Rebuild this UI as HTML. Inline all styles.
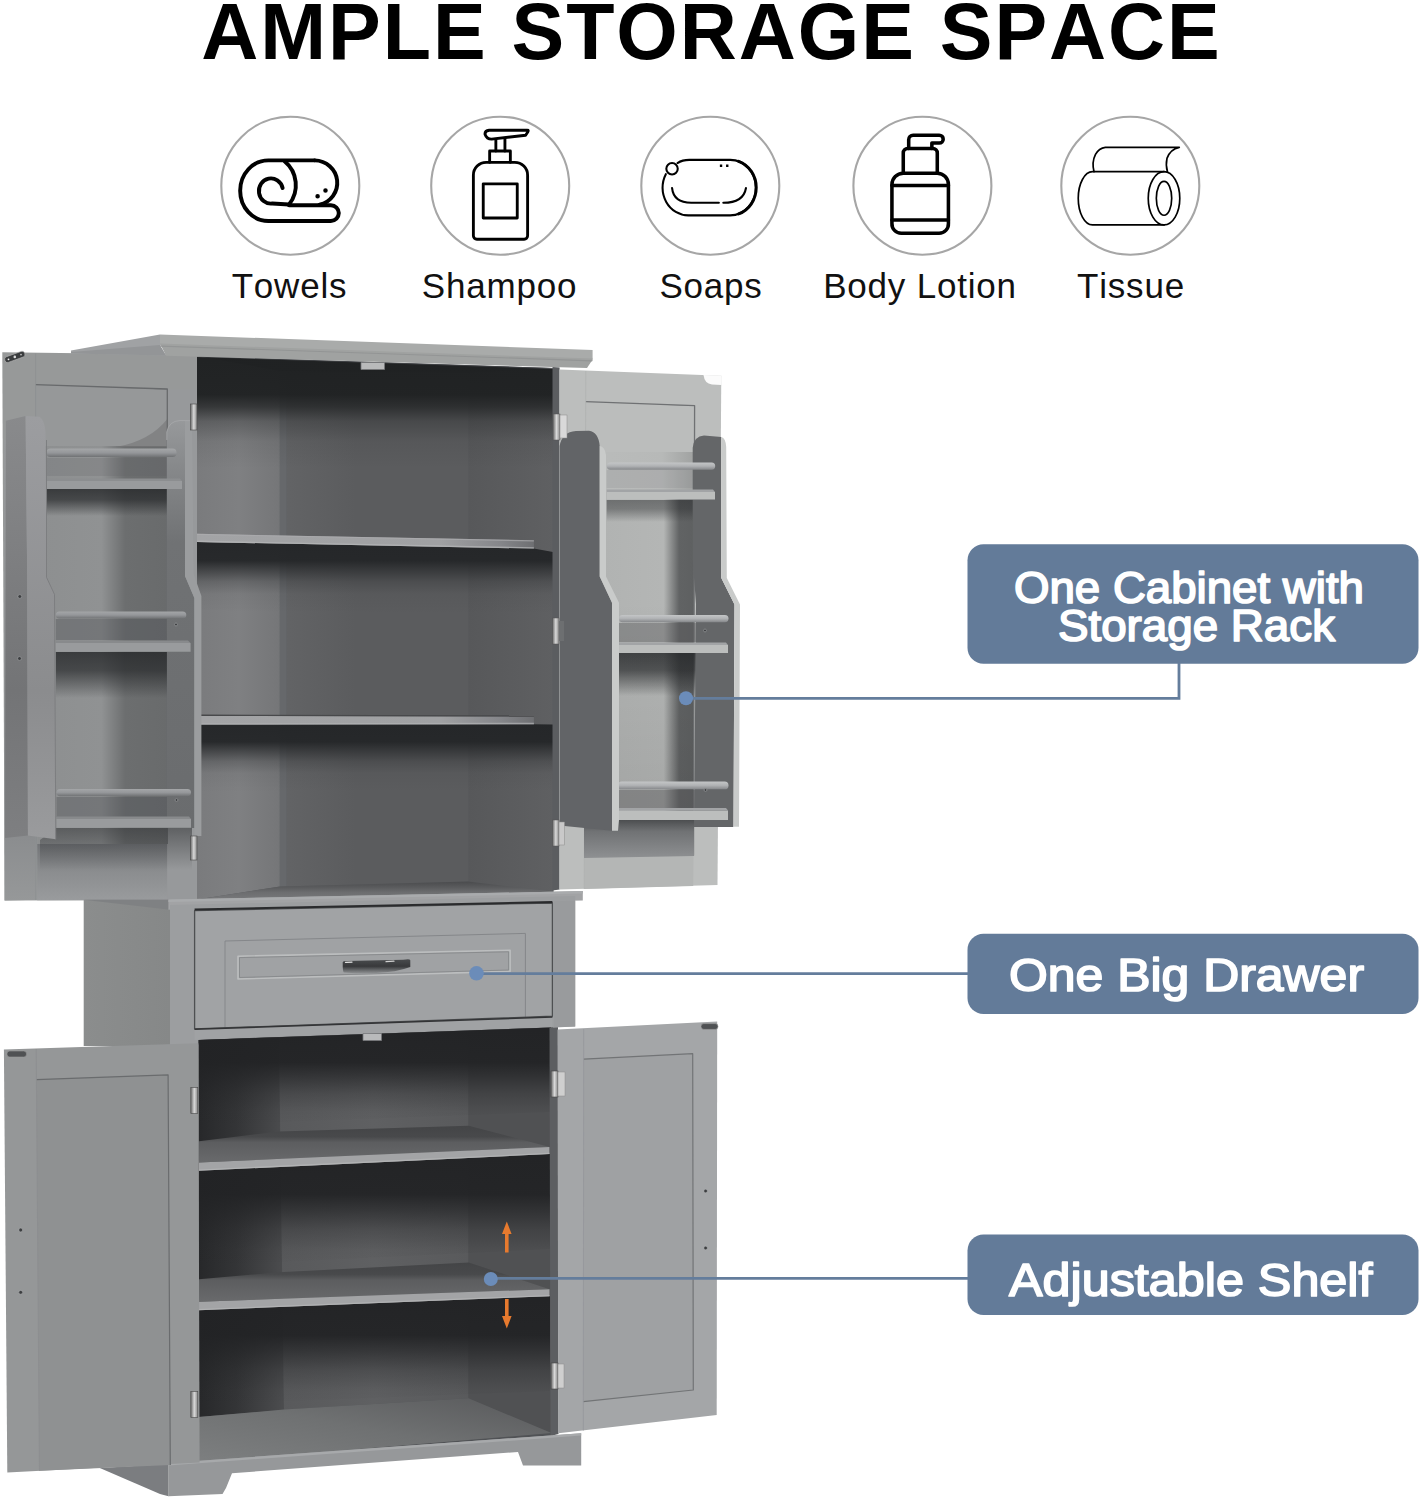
<!DOCTYPE html>
<html><head><meta charset="utf-8">
<style>
html,body{margin:0;padding:0;background:#fff;}
body{width:1420px;height:1500px;overflow:hidden;font-family:"Liberation Sans",sans-serif;}
svg{display:block;position:absolute;left:0;top:0;}
text{font-family:"Liberation Sans",sans-serif;font-kerning:none;}
</style></head><body>
<svg width="1420" height="1500" viewBox="0 0 1420 1500">
<defs>
<linearGradient id="gBack" x1="0" y1="0" x2="1" y2="0"><stop offset="0" stop-color="#636466"/><stop offset="0.4" stop-color="#5b5c5e"/><stop offset="1" stop-color="#5b5c5e"/></linearGradient>
<linearGradient id="gLWall" x1="0" y1="0" x2="1" y2="0"><stop offset="0" stop-color="#7a7b7d"/><stop offset="0.5" stop-color="#7f8082"/><stop offset="1" stop-color="#757678"/></linearGradient>
<linearGradient id="gRWall" x1="0" y1="0" x2="1" y2="0"><stop offset="0" stop-color="#57585a"/><stop offset="1" stop-color="#5f6062"/></linearGradient>
<linearGradient id="gShadowDown" x1="0" y1="0" x2="0" y2="1"><stop offset="0" stop-color="#2c2e30" stop-opacity="0.75"/><stop offset="1" stop-color="#2c2e30" stop-opacity="0"/></linearGradient>
<linearGradient id="gLPanel" x1="0" y1="0" x2="1" y2="0"><stop offset="0" stop-color="#8d8f90"/><stop offset="0.5" stop-color="#909293"/><stop offset="0.68" stop-color="#6c6e6f"/><stop offset="1" stop-color="#696b6c"/></linearGradient>
<linearGradient id="gRPanel" x1="0" y1="0" x2="1" y2="0"><stop offset="0" stop-color="#b0b2b1"/><stop offset="0.72" stop-color="#b4b6b5"/><stop offset="0.86" stop-color="#616364"/><stop offset="1" stop-color="#5e6061"/></linearGradient>
<linearGradient id="gRod" x1="0" y1="0" x2="0" y2="1"><stop offset="0" stop-color="#a4a6a8"/><stop offset="0.5" stop-color="#95979a"/><stop offset="1" stop-color="#707274"/></linearGradient>
<linearGradient id="gRodR" x1="0" y1="0" x2="0" y2="1"><stop offset="0" stop-color="#c4c6c7"/><stop offset="0.5" stop-color="#b0b2b4"/><stop offset="1" stop-color="#85878a"/></linearGradient>
<linearGradient id="gShelfTop" x1="0" y1="0" x2="1" y2="0"><stop offset="0" stop-color="#a3a4a6"/><stop offset="0.72" stop-color="#a0a1a3"/><stop offset="0.9" stop-color="#85868a"/><stop offset="1" stop-color="#6e6f72"/></linearGradient>
<linearGradient id="gLowShelf" x1="0" y1="0" x2="0" y2="1"><stop offset="0" stop-color="#6f7174"/><stop offset="1" stop-color="#858789"/></linearGradient>
<linearGradient id="gSide" x1="0" y1="0" x2="1" y2="0"><stop offset="0" stop-color="#8b8d8d"/><stop offset="1" stop-color="#868888"/></linearGradient>
<linearGradient id="gHandle" x1="0" y1="0" x2="0" y2="1"><stop offset="0" stop-color="#4a4c4e"/><stop offset="0.5" stop-color="#38393b"/><stop offset="0.7" stop-color="#5a5c5e"/><stop offset="1" stop-color="#8e9092"/></linearGradient>
<linearGradient id="gMetal" x1="0" y1="0" x2="1" y2="0"><stop offset="0" stop-color="#6a6a6a"/><stop offset="0.5" stop-color="#d8d8d8"/><stop offset="1" stop-color="#8a8a8a"/></linearGradient>
<linearGradient id="gLBotRail" x1="0" y1="0" x2="0" y2="1"><stop offset="0" stop-color="#737578"/><stop offset="0.5" stop-color="#8b8d8f"/><stop offset="1" stop-color="#999b9d"/></linearGradient>
<linearGradient id="gLStile" x1="0" y1="0" x2="0" y2="1"><stop offset="0" stop-color="#989a9c"/><stop offset="0.85" stop-color="#8a8c8e"/><stop offset="1" stop-color="#969899"/></linearGradient>
<linearGradient id="gRBotShadow" x1="0" y1="0" x2="0" y2="1"><stop offset="0" stop-color="#6a6c6e" stop-opacity="0.8"/><stop offset="1" stop-color="#6a6c6e" stop-opacity="0"/></linearGradient>
<linearGradient id="gLowLWall" x1="0" y1="0" x2="1" y2="0"><stop offset="0" stop-color="#27282a"/><stop offset="0.45" stop-color="#343537"/><stop offset="1" stop-color="#4c4d4f"/></linearGradient>
<linearGradient id="gLowBack" x1="0" y1="0" x2="1" y2="0"><stop offset="0" stop-color="#58595b"/><stop offset="0.5" stop-color="#5f6062"/><stop offset="1" stop-color="#595a5c"/></linearGradient>
<linearGradient id="gFloor" x1="0" y1="1" x2="1" y2="0"><stop offset="0" stop-color="#7d7f80"/><stop offset="0.5" stop-color="#6f7172"/><stop offset="1" stop-color="#58595b"/></linearGradient>
<linearGradient id="gLowShelfTop" x1="0" y1="0" x2="0" y2="1"><stop offset="0" stop-color="#444547"/><stop offset="0.3" stop-color="#48494b"/><stop offset="0.45" stop-color="#5c5d5f"/><stop offset="1" stop-color="#696a6c"/></linearGradient>
<linearGradient id="gLRackR" x1="0" y1="0" x2="0" y2="1"><stop offset="0" stop-color="#97999b"/><stop offset="0.12" stop-color="#86888a"/><stop offset="0.3" stop-color="#707274"/><stop offset="1" stop-color="#6a6c6e"/></linearGradient>
<linearGradient id="gRPanelTop" x1="0" y1="0" x2="1" y2="0"><stop offset="0" stop-color="#babcbb"/><stop offset="0.7" stop-color="#b7b9b8"/><stop offset="1" stop-color="#a0a2a1"/></linearGradient>
<linearGradient id="gRUnder" x1="0" y1="0" x2="0" y2="1"><stop offset="0" stop-color="#4c4e50"/><stop offset="0.3" stop-color="#707274"/><stop offset="1" stop-color="#8e9092"/></linearGradient>
<linearGradient id="gShadow2" x1="0" y1="0" x2="0" y2="1"><stop offset="0" stop-color="#242628" stop-opacity="0.98"/><stop offset="0.26" stop-color="#242628" stop-opacity="0.96"/><stop offset="0.4" stop-color="#242628" stop-opacity="0.62"/><stop offset="0.55" stop-color="#242628" stop-opacity="0.27"/><stop offset="0.72" stop-color="#242628" stop-opacity="0.06"/><stop offset="1" stop-color="#242628" stop-opacity="0"/></linearGradient>
<linearGradient id="gShadowTop" x1="0" y1="0" x2="0" y2="1"><stop offset="0" stop-color="#1f2122" stop-opacity="0.98"/><stop offset="0.34" stop-color="#1f2122" stop-opacity="0.96"/><stop offset="0.45" stop-color="#1f2122" stop-opacity="0.75"/><stop offset="0.58" stop-color="#1f2122" stop-opacity="0.32"/><stop offset="0.76" stop-color="#1f2122" stop-opacity="0.08"/><stop offset="1" stop-color="#1f2122" stop-opacity="0"/></linearGradient>
<linearGradient id="gShadowLow" x1="0" y1="0" x2="0" y2="1"><stop offset="0" stop-color="#222325" stop-opacity="0.98"/><stop offset="0.36" stop-color="#222325" stop-opacity="0.95"/><stop offset="0.5" stop-color="#222325" stop-opacity="0.68"/><stop offset="0.68" stop-color="#222325" stop-opacity="0.3"/><stop offset="0.86" stop-color="#222325" stop-opacity="0.06"/><stop offset="1" stop-color="#222325" stop-opacity="0"/></linearGradient>
<linearGradient id="gShadowRack" x1="0" y1="0" x2="0" y2="1"><stop offset="0" stop-color="#242628" stop-opacity="0.8"/><stop offset="0.4" stop-color="#242628" stop-opacity="0.68"/><stop offset="1" stop-color="#242628" stop-opacity="0"/></linearGradient>
<linearGradient id="gPanelVDark" x1="0" y1="0" x2="0" y2="1"><stop offset="0" stop-color="#000" stop-opacity="0"/><stop offset="1" stop-color="#000" stop-opacity="0.1"/></linearGradient>
<linearGradient id="gUpFloor" x1="0" y1="0" x2="0" y2="1"><stop offset="0" stop-color="#4a4b4d"/><stop offset="0.35" stop-color="#5c5d5f"/><stop offset="0.6" stop-color="#6c6d6f"/><stop offset="1" stop-color="#78797b"/></linearGradient>
<linearGradient id="gRackSide" x1="0" y1="0" x2="0" y2="1"><stop offset="0" stop-color="#898a8c"/><stop offset="0.65" stop-color="#737476"/><stop offset="1" stop-color="#7e7f81"/></linearGradient>
<linearGradient id="gRackFront" x1="0" y1="0" x2="0" y2="1"><stop offset="0" stop-color="#9c9da0"/><stop offset="0.65" stop-color="#8b8c8e"/><stop offset="1" stop-color="#9a9b9d"/></linearGradient>
</defs>
<rect width="1420" height="1500" fill="#fff"/>
<!--CABINET-->
<g id="cab" stroke-linejoin="round">
<!-- ===== upper-left door (inside face) ===== -->
<polygon points="2.3,352.2 197.5,354.8 198.3,900 4.6,900.5" fill="#979999"/>
<polygon points="35.6,385 167.3,389.5 167.3,844 37.2,844" fill="url(#gLPanel)"/>
<polygon points="35.6,385 167.3,389.5 167.3,446 35.6,446" fill="#969899"/>
<path d="M116 447 Q150 441 167.3 419 V447 Z" fill="#747577" opacity="0.6"/>
<polygon points="37.2,844 167.3,844 167.3,900 37.2,900.2" fill="url(#gLBotRail)"/>
<polygon points="167.3,389.5 197.8,389.5 198.3,900 167.3,900" fill="#97999b"/>
<polygon points="4,440 35.8,440 37.2,899.8 4.6,900.5" fill="url(#gLStile)"/>
<path d="M35.6 384.6 L167.3 389 V844" fill="none" stroke="#686a6c" stroke-width="1.3"/>
<path d="M35.6 353.5 V900" fill="none" stroke="#8d8f91" stroke-width="0.8"/>
<!-- ===== upper interior ===== -->
<polygon points="197,356 553.4,368 553.4,892 197,899.6" fill="#5a5c5f"/>
<polygon points="197,356 280,370 280,886.5 197,899.6" fill="url(#gLWall)"/>
<polygon points="280,370 468.3,372 468.3,881.5 280,886.5" fill="url(#gBack)"/>
<polygon points="279.6,370 286.3,370.2 286.3,886.3 279.6,886.5" fill="#66686b"/>
<polygon points="468.3,372 553.4,368 553.4,891.5 468.3,881.5" fill="url(#gRWall)"/>
<polygon points="198,356 553.4,368 468.3,373 280,371" fill="#3f4144"/>
<polygon points="197,899.6 280,886.5 468.3,881.5 553.4,891.5 553.4,892 197,899.6" fill="url(#gUpFloor)"/>
<!-- shelf shadows -->
<polygon points="197,542 533.9,548.6 553,552 553,614 197,610" fill="url(#gShadow2)"/>
<polygon points="197,724.6 533.9,724.2 553,724.5 553,792 197,792" fill="url(#gShadow2)"/>
<polygon points="197,357 553,369 553,468 197,468" fill="url(#gShadowTop)"/>
<!-- shelf 1 -->
<polygon points="197,533.8 533.9,540.2 533.9,548.6 197,542" fill="url(#gShelfTop)"/>
<polygon points="197,533.8 533.9,540.2 533.9,541.4 197,535" fill="#acadaf" opacity="0.7"/>
<polygon points="197,540.6 533.9,547.2 533.9,548.6 197,542" fill="#b4b5b7" opacity="0.75"/>
<!-- shelf 2 -->
<polygon points="201,716 533.9,716.6 533.9,724.2 201,724.6" fill="url(#gShelfTop)"/>
<polygon points="201,714.6 533.9,715.2 533.9,716.6 201,716" fill="#48494b"/>
<polygon points="201,723.2 533.9,722.8 533.9,724.2 201,724.6" fill="#b0b1b3" opacity="0.75"/>
<!-- magnetic catch -->
<rect x="361" y="362.5" width="23.5" height="7" fill="#b9babb" stroke="#77797b" stroke-width="0.8"/>
<!-- ===== crown ===== -->
<polygon points="71,350.4 160,334.5 160,346 166,355.5 71,353.4" fill="#a0a2a4"/>
<polygon points="71,352 160,345 166,355.5 71,353.6" fill="#939597"/>
<polygon points="160,334.5 592.6,350 592.6,360.4 160,345.6" fill="#a9abaa"/>
<polygon points="160,343.6 592.6,358.6 591,362 587,368 166,355.8" fill="#a0a2a1"/>
<polygon points="160,345.5 592.6,360.2 592,361.4 161,346.7" fill="#939595"/>
<!-- cabinet right side front edge -->
<polygon points="552.5,367 559.6,367.5 559.6,889.5 552.5,890.6" fill="#5b5d60"/>
<!-- ===== upper-right door ===== -->
<polygon points="559.4,369.5 721.3,375.7 717.5,885 559.4,889.6" fill="#bcbebd"/>
<polygon points="585.8,402 694.6,406 693.5,855.5 584.2,855.5" fill="url(#gRPanel)"/>
<polygon points="585.8,402 694.6,406 694.5,452 585.6,452" fill="#bbbdbc"/><polygon points="585.8,452 694.5,452 694.3,492 585.6,492" fill="url(#gRPanelTop)"/>
<polygon points="584.2,855.5 693.5,855.5 693.2,886 584.1,889" fill="#b4b6b5"/>
<polygon points="584.5,830 693.7,830 693.5,856 584.2,858" fill="url(#gRBotShadow)"/>
<path d="M585.8 401.6 L694.6 405.6 L693.5 855.5" fill="none" stroke="#6f7173" stroke-width="1.3"/>
<path d="M585.8 371 L584.2 889" fill="none" stroke="#b0b2b1" stroke-width="0.8"/>
<path d="M703.5 375 L721.6 375.6 L721.5 385 L712 384.6 Q704.5 383.5 703.5 375 Z" fill="#fbfbfb"/>
<!-- ===== mid section ===== -->
<polygon points="83.7,899.7 170.4,899.7 170.4,1046 83.7,1046" fill="url(#gSide)"/>
<polygon points="83.7,899.7 170.4,899.7 170.4,909.8" fill="#7f8183"/>
<polygon points="168.4,899.6 582.8,891.1 582.8,900.4 168.4,909.7" fill="#a2a3a5"/>
<polygon points="168.4,899.6 582.8,891.1 582.8,893.4 168.4,902" fill="#a9abad"/>
<polygon points="170,905 575.2,896 575.2,1026.5 170,1046" fill="#9c9ea0"/>
<polygon points="554,901.2 575.2,900.7 575.2,1026.5 554,1027" fill="#999b9d"/>
<polygon points="194.6,910.6 552.4,903 552.4,1016.2 194.6,1028.9" fill="#a1a3a5"/>
<polygon points="225,941 525.4,933.4 525.4,1017.2 225,1027.8" fill="#a0a2a4"/>
<path d="M225 1027.8 V941 L525.4 933.4 V1017.2" fill="none" stroke="#85878a" stroke-width="1"/>
<polygon points="238,956.2 510.1,950.3 510.1,971.4 238,979" fill="none" stroke="#bcbebf" stroke-width="1.6"/>
<polygon points="239.5,957.6 508.6,951.8 508.6,970 239.5,977.5" fill="none" stroke="#87898b" stroke-width="0.9"/>
<polygon points="194.6,910.6 552.4,903 552.4,1016.2 194.6,1028.9" fill="none" stroke="#4e5052" stroke-width="1.3"/><path d="M194.6 909.6 L552.4 902" stroke="#2a2b2d" stroke-width="2" fill="none"/>
<polygon points="194.6,1029.7 552.4,1017.9 552.4,1027.2 194.6,1039.9" fill="#a0a2a4"/><path d="M194.6 1029.3 L552.4 1017" stroke="#333436" stroke-width="1.6" fill="none"/>
<!-- handle -->
<path d="M342.7 962.3 Q343 960.8 347 961 L403 959.8 Q410 958.6 410.3 960.2 L410.3 967 Q396 972.3 376 973 Q355 973.8 344 972.6 Q342.6 972 342.7 962.3 Z" fill="url(#gHandle)"/><path d="M345.5 962.3 L352 962.1" stroke="#e8e8e8" stroke-width="1.3" stroke-linecap="round" fill="none"/><path d="M386 961.6 L394 961.2" stroke="#d0d0d0" stroke-width="1.2" stroke-linecap="round" fill="none"/>
<!-- ===== lower interior ===== -->
<polygon points="198.5,1040 553,1027.4 553,1440 198.5,1464" fill="#505255"/>
<polygon points="198.5,1040 279,1037 284,1410 198.5,1417" fill="url(#gLowLWall)"/>
<polygon points="279,1037 468.5,1030.4 468.5,1398.3 284,1409.5" fill="url(#gLowBack)"/>
<polygon points="468.5,1030.4 551,1027.5 551.5,1433 468.5,1398.3" fill="#505153"/>
<polygon points="198.5,1417 284,1409.5 468.5,1398.3 551.5,1433 198.5,1462.5" fill="url(#gFloor)"/>
<!-- lower shelves shadows -->
<polygon points="199,1170.8 550,1154 550,1249 199,1266" fill="url(#gShadowLow)"/>
<polygon points="199,1310.3 550,1296.2 550,1391 199,1405" fill="url(#gShadowLow)"/>
<polygon points="199,1040 551,1027.5 551,1112 199,1125" fill="url(#gShadowLow)"/>
<!-- shelf A -->
<polygon points="199,1141.3 278.6,1131.4 468.7,1125.8 549.5,1146.9 199,1162.4" fill="url(#gLowShelfTop)"/>
<polygon points="199,1162.4 549.5,1146.9 549.5,1154 199,1170.8" fill="#a3a4a6"/><polygon points="199,1169.4 549.5,1152.8 549.5,1154 199,1170.8" fill="#b4b5b7" opacity="0.8"/>
<!-- shelf B -->
<polygon points="199,1279.3 278.6,1272.3 468.7,1262.4 549.5,1289.2 199,1301.8" fill="url(#gLowShelfTop)"/>
<polygon points="199,1301.8 549.5,1289.2 549.5,1296.2 199,1310.3" fill="#a3a4a6"/><polygon points="199,1308.9 549.5,1295 549.5,1296.2 199,1310.3" fill="#b4b5b7" opacity="0.8"/>
<!-- magnetic catch lower -->
<rect x="363" y="1033.5" width="18.5" height="7" fill="#b9babb" stroke="#77797b" stroke-width="0.8"/>
<!-- cabinet right front edge lower -->
<polygon points="549.5,1027.5 558,1027.2 558.5,1434 550.5,1436" fill="#5c5e61"/>
<!-- ===== plinth ===== -->
<polygon points="99.8,1467.9 168.5,1464 168.5,1496.3 160,1494" fill="#7b7d80"/>
<polygon points="168.3,1463 581.2,1433.2 581.2,1465.5 523,1465.5 518,1452 232,1473.2 226,1488 222.5,1494 168.3,1496.3" fill="#96989a"/>
<polygon points="168.3,1463 581.2,1433.2 581.2,1435.6 168.3,1465.4" fill="#a7a9ab"/>
<!-- ===== lower-left door ===== -->
<polygon points="3.9,1049.4 198.3,1043.2 199.6,1462.4 7.3,1472.5" fill="#959798"/>
<polygon points="36.4,1079.6 168.1,1074.9 170.3,1465.1 39.4,1470.8" fill="#8f9192"/>
<path d="M36.4 1079.6 L168.1 1074.9 L170.3 1465" fill="none" stroke="#6a6c6e" stroke-width="1.2"/>
<path d="M36.2 1049 L39.4 1470.8" fill="none" stroke="#8b8d8f" stroke-width="0.8"/>
<!-- ===== lower-right door ===== -->
<polygon points="557.5,1029.6 717.2,1021.6 716.7,1415 558.3,1433.3" fill="#a4a6a8"/>
<polygon points="583.7,1059.2 692.7,1053.7 693.3,1390 583.3,1401.7" fill="#9fa1a3"/>
<path d="M583.7 1059.2 L692.7 1053.7 L693.3 1390 L583.3 1401.7" fill="none" stroke="#727476" stroke-width="1.2"/>
<path d="M583.7 1029 L583.3 1430.5" fill="none" stroke="#94969a" stroke-width="0.8"/>
</g>
<g id="racks" stroke-linejoin="round">
<!-- ===== LEFT RACK ===== -->
<!-- shadows on panel under rods/shelves -->
<polygon points="46.5,489 182,489 185,516 46.5,516" fill="url(#gShadowRack)"/>
<polygon points="55.8,652 191,652 192,698 55.8,698" fill="url(#gShadowRack)"/>
<polygon points="46.5,458 176,458 178,476 46.5,476" fill="#5f6163" opacity="0.2"/>
<polygon points="55.8,619 186,619 188,640 55.8,640" fill="#55575a" opacity="0.45"/>
<polygon points="56.5,797 191,797 191,817 56.5,817" fill="#55575a" opacity="0.45"/>
<!-- rack shadow beneath rack on bottom rail -->
<polygon points="56,828 192,828 192,870 40,870 40,840" fill="url(#gShadowDown)" opacity="0.7"/>
<!-- right side panel (inner face + front strip) -->

<path d="M166.8 432 Q169 421 180 420.5 L185 420.6 L185 576 L194.4 598 L194.4 828 L167 828 Z" fill="url(#gLRackR)"/>
<path d="M185 420.6 L192 420.7 L193.6 574 L201.4 596 L201.4 836 L194.4 836 L194.4 598 L185 576 Z" fill="#9b9d9f"/>
<path d="M166.8 440 L166.8 432 Q169 421 180 420.5 L192 420.7" fill="none" stroke="#a6a7a9" stroke-width="0.9"/>
<!-- rods / shelves -->
<rect x="46.5" y="448.6" width="130" height="8.4" rx="4" fill="url(#gRod)"/>
<polygon points="46.5,481 182,481 182,489 46.5,489" fill="#999b9d"/>
<polygon points="46.5,478.5 180,478.5 182,481 46.5,481" fill="#8c8e90"/>
<rect x="55.8" y="611.4" width="130.5" height="7.2" rx="3.6" fill="url(#gRod)"/>
<polygon points="55.8,643 190.6,643 190.6,651.7 55.8,651.7" fill="#999b9d"/>
<polygon points="55.8,640.5 188,640.5 190.6,643 55.8,643" fill="#888a8c"/>
<rect x="56.5" y="789" width="134.5" height="7.2" rx="3.6" fill="url(#gRod)"/>
<polygon points="56.5,819 191,819 191,827.7 56.5,827.7" fill="#999b9d"/>
<polygon points="56.5,816.5 189,816.5 191,819 56.5,819" fill="#888a8c"/>
<!-- left side panel: side face + front face -->
<path d="M5.9 420.7 L25.6 416 L27.2 577 L28 835.4 L5 838 Z" fill="url(#gRackSide)"/>
<path d="M25.6 416 L39.5 416.8 Q44.5 420 45.5 432 L46.5 577.3 L54.5 594.4 L55.8 839.3 L27.9 835.4 L27.2 577 Z" fill="url(#gRackFront)"/>
<path d="M46.5 440 L46.5 577.3 L54.5 594.4 L55.8 839.3" fill="none" stroke="#7a7c7e" stroke-width="0.9"/>
<!-- ===== RIGHT RACK ===== -->
<!-- shadows -->
<polygon points="606.7,500 715,500 716,522 606.7,522" fill="url(#gShadowRack)" opacity="0.6"/>
<polygon points="619,653 728,653 728,696 619,696" fill="url(#gShadowRack)"/><polygon points="619,600 694,600 693.5,856 619,856" fill="url(#gPanelVDark)"/>
<polygon points="606.7,470 714,470 714,488 606.7,488" fill="#6a6c6e" opacity="0.14"/>
<polygon points="619,623 727,623 727,642 619,642" fill="#5a5c5e" opacity="0.45"/>
<polygon points="618,790 727,790 727,808 618,808" fill="#5a5c5e" opacity="0.45"/>
<polygon points="584,820 733,820 733,827 694,827 694,856 584,858" fill="url(#gRUnder)"/>
<!-- right side panel dark inner face -->
<path d="M692.7 447.7 Q694 436 704 435.4 L721.3 436.9 L721.3 578 L734.5 604.4 L733.5 826.8 L694 826.8 L696 604 L692.7 560 Z" fill="#646668"/>
<!-- right light strip -->
<path d="M721.3 436.9 Q725.8 438 726.2 447 L726.8 578 L740 604.4 L739 826.8 L733.5 826.8 L734.5 604.4 L721.3 578 Z" fill="#c9cbca"/>
<!-- rods / shelves -->
<rect x="606.7" y="462.5" width="108.5" height="7.2" rx="3.6" fill="url(#gRodR)"/>
<polygon points="606.7,492 715,492 715,499.6 606.7,499.6" fill="#bcbebd"/>
<polygon points="606.7,489.5 713,489.5 715,492 606.7,492" fill="#a2a4a6"/>
<rect x="619" y="615" width="109.5" height="7.2" rx="3.6" fill="url(#gRodR)"/>
<polygon points="619,645 728,645 728,653 619,653" fill="#bcbebd"/>
<polygon points="619,642.5 726,642.5 728,645 619,645" fill="#a2a4a6"/>
<rect x="618" y="781.5" width="110.5" height="7.8" rx="3.9" fill="url(#gRodR)"/>
<polygon points="618,810.6 728,810.6 728,819.9 618,819.9" fill="#bcbebd"/>
<polygon points="618,808 726,808 728,810.6 618,810.6" fill="#a2a4a6"/>
<!-- left side panel dark face -->
<path d="M559.6 446 Q562 432 576 431 L589 430.7 Q598.5 432 599.7 446 L599.7 576.5 L612 602.8 L612 830.7 L559.6 825.5 Z" fill="#626467"/>
<!-- left light strip -->
<path d="M599.7 446 Q604.8 446.5 606 455 L606 576.5 L619 602.8 L619 819.9 L618 830.7 L612 830.7 L612 602.8 L599.7 576.5 Z" fill="#c9cbca"/>
</g>
<!-- ===== hardware ===== -->
<g id="hw">
<!-- magnet plates -->
<rect x="-10.5" y="-3" width="21" height="6" rx="2.6" transform="translate(14.8,356.9) rotate(-20)" fill="#3a3c3e" stroke="#b5b5b5" stroke-width="0.6"/><circle cx="14.8" cy="356.9" r="1.3" fill="#ddd"/><circle cx="8.5" cy="359.3" r="0.9" fill="#eee"/><circle cx="21" cy="354.6" r="0.9" fill="#bbb"/>
<rect x="7" y="1051" width="19.5" height="6" rx="2.8" fill="#4f5153" stroke="#9a9a9a" stroke-width="0.6"/>
<rect x="701" y="1023.6" width="17" height="5.8" rx="2.8" fill="#4f5153" stroke="#a5a5a5" stroke-width="0.6"/>
<!-- hinges upper-left door -->
<rect x="190.5" y="404" width="6.5" height="26" fill="url(#gMetal)" stroke="#4a4a4a" stroke-width="0.6"/>
<rect x="190.5" y="836" width="6.5" height="24" fill="url(#gMetal)" stroke="#4a4a4a" stroke-width="0.6"/>
<!-- hinges upper-right door -->
<rect x="553" y="414" width="7" height="26" fill="url(#gMetal)" stroke="#555" stroke-width="0.5"/><rect x="560" y="415" width="7" height="23" fill="#d9d9d9" stroke="#8a8a8a" stroke-width="0.5"/>
<rect x="552.5" y="618" width="6.5" height="26" fill="url(#gMetal)" stroke="#555" stroke-width="0.5"/><rect x="559" y="621" width="5" height="20" fill="#6d6f71"/>
<rect x="552.5" y="820" width="6.5" height="26" fill="url(#gMetal)" stroke="#555" stroke-width="0.5"/><rect x="559" y="822" width="5.5" height="23" fill="#c9c9c9" stroke="#8a8a8a" stroke-width="0.5"/>
<!-- hinges lower-left door -->
<rect x="190.8" y="1087.5" width="7" height="26" fill="url(#gMetal)" stroke="#4a4a4a" stroke-width="0.6"/>
<rect x="190.8" y="1391.5" width="7" height="26" fill="url(#gMetal)" stroke="#4a4a4a" stroke-width="0.6"/>
<!-- hinges lower-right door -->
<rect x="551" y="1071" width="7" height="26" fill="url(#gMetal)" stroke="#444" stroke-width="0.6"/><rect x="558" y="1072" width="7" height="24" fill="#cfcfcf" stroke="#8a8a8a" stroke-width="0.5"/>
<rect x="551" y="1363" width="7" height="26" fill="url(#gMetal)" stroke="#444" stroke-width="0.6"/><rect x="558" y="1364" width="6" height="24" fill="#cfcfcf" stroke="#8a8a8a" stroke-width="0.5"/>
<!-- screw holes -->
<g fill="#3c3e40" stroke="#b0b2b4" stroke-width="0.5">
<circle cx="19.8" cy="596.5" r="1.9"/><circle cx="19.5" cy="658.5" r="1.9"/>
<circle cx="20.7" cy="1230" r="1.9"/><circle cx="20.7" cy="1292.3" r="1.9"/>
<circle cx="705.6" cy="1191" r="1.8"/><circle cx="705.6" cy="1248" r="1.8"/>
<circle cx="176" cy="624.5" r="1.4"/><circle cx="176.5" cy="800" r="1.4"/><circle cx="705" cy="630.5" r="1.4"/><circle cx="705.5" cy="790" r="1.4"/>
</g>
</g>
<!-- arrows -->
<g fill="#e77a2e">
<path d="M506.8 1221.5 L511.6 1234 L508.6 1234 L508.6 1252.5 L505 1252.5 L505 1234 L502 1234 Z"/>
<path d="M506.8 1328.6 L511.6 1316 L508.6 1316 L508.6 1299 L505 1299 L505 1316 L502 1316 Z"/>
</g>
<!--/CABINET-->
<!--HEADER-->
<text x="201.3" y="58.6" font-size="79" font-weight="bold" textLength="1018.5" lengthAdjust="spacing" fill="#000">AMPLE STORAGE SPACE</text>
<!--ICONS-->
<g fill="none" stroke="#a6a6a6" stroke-width="2.1">
<circle cx="290.3" cy="185.7" r="69"/><circle cx="500.2" cy="185.7" r="69"/><circle cx="710.3" cy="185.7" r="69"/><circle cx="922.4" cy="185.7" r="69"/><circle cx="1130.3" cy="185.7" r="69"/>
</g>
<g fill="none" stroke="#000" stroke-linecap="round" stroke-linejoin="round">
<!-- towel -->
<g transform="translate(220,115) scale(0.098592)" stroke-width="40">
<path d="M635 740 A122 128 0 1 0 530 898 L700 908 A313 313 0 0 0 655 470"/>
<path d="M960 460 H490 A285 307 0 0 0 490 1075 H1125 A80 80 0 0 0 1125 915 H700"/>
<path d="M960 460 A232 228 0 0 1 1010 910"/>
<circle cx="1070" cy="765" r="12" fill="#000" stroke-width="22"/><circle cx="990" cy="825" r="12" fill="#000" stroke-width="22"/>
</g>
<!-- shampoo -->
<g transform="translate(430,115) scale(0.098592)" stroke-width="29">
<path d="M440 1225 V610 A130 130 0 0 1 570 480 H860 A130 130 0 0 1 990 610 V1225 A35 35 0 0 1 955 1260 H475 A35 35 0 0 1 440 1225 Z"/>
<path d="M605 480 V365 H815 V480"/><path d="M668 365 V248 M760 365 V240"/>
<path d="M600 155 H985 Q1005 150 990 175 L970 205 L625 245 Q575 245 558 195 Q555 160 600 155 Z"/>
<rect x="540" y="698" width="345" height="347"/>
</g>
<!-- soap -->
<g transform="translate(640,115) scale(0.098592)" stroke-width="21">
<path d="M380 487 Q430 455 500 455 H915 A260 281 0 0 1 915 1018 H495 A262 281 0 0 1 262 600"/>
<path d="M1000 470 A262 281 0 0 1 1000 1003" stroke-width="30"/>
<circle cx="325" cy="545" r="58"/>
<path d="M325 740 Q340 890 520 890 H800 M845 890 Q1050 890 1075 740"/>
<path d="M810 503 h24 v24 h-24 Z M873 503 h24 v24 h-24 Z" fill="#000" stroke="none"/>
</g>
<!-- lotion -->
<g transform="translate(852,115) scale(0.098592)" stroke-width="36">
<path d="M405 1100 V705 A115 115 0 0 1 520 590 H865 A115 115 0 0 1 978 705 V1100 A95 95 0 0 1 883 1200 H500 A95 95 0 0 1 405 1100 Z"/>
<path d="M405 715 H978 M405 1065 H978"/>
<path d="M520 590 V385 A45 45 0 0 1 565 340 H820 A45 45 0 0 1 865 385 V590"/>
<path d="M575 340 V250 A45 45 0 0 1 620 205 H885 A40 40 0 0 1 885 285 H810 V340"/>
</g>
<!-- tissue -->
<g transform="translate(1060,115) scale(0.098592)" stroke-width="17">
<path d="M1055 575 H330 A145 270 0 0 0 330 1115 H1055"/>
<ellipse cx="1055" cy="845" rx="160" ry="270"/><ellipse cx="1055" cy="845" rx="78" ry="172"/>
<path d="M345 575 Q320 480 360 400 Q395 335 460 328 H1210 Q1120 345 1085 440 Q1070 510 1090 575"/>
</g>
</g>
<g font-size="35" fill="#111" text-anchor="middle" letter-spacing="0.8">
<text x="289.5" y="297.7">Towels</text>
<text x="499.5" y="297.7">Shampoo</text>
<text x="711" y="297.7">Soaps</text>
<text x="920" y="297.7">Body Lotion</text>
<text x="1131" y="297.7">Tissue</text>
</g>
<!--CALLOUTS-->
<g fill="#637b99">
<rect x="967.5" y="544.3" width="451" height="119.4" rx="16"/>
<rect x="967.5" y="933.8" width="451" height="80.2" rx="16"/>
<rect x="967.5" y="1234.5" width="451" height="80.5" rx="16"/>
</g>
<g fill="none" stroke="#647d9c" stroke-width="2.8">
<path d="M686 698.3 H1179 V663"/><path d="M476.8 973.6 H968"/><path d="M491.3 1278.3 H968"/>
</g>
<g fill="#6b8cb9"><circle cx="686" cy="698.3" r="7"/><circle cx="476.5" cy="973.3" r="7.3"/><circle cx="490.8" cy="1279" r="7"/></g>
<g fill="#fff" stroke="#fff" stroke-width="1.7" stroke-linejoin="round" lengthAdjust="spacingAndGlyphs">
<text x="1014" y="602.8" font-size="44" textLength="350" lengthAdjust="spacingAndGlyphs">One Cabinet with</text>
<text x="1058" y="641" font-size="44" textLength="277" lengthAdjust="spacingAndGlyphs">Storage Rack</text>
<text x="1009" y="990.6" font-size="46.5" textLength="355" lengthAdjust="spacingAndGlyphs">One Big Drawer</text>
<text x="1009" y="1295.7" font-size="46.5" textLength="363.5" lengthAdjust="spacingAndGlyphs">Adjustable Shelf</text>
</g>
</svg>
</body></html>
